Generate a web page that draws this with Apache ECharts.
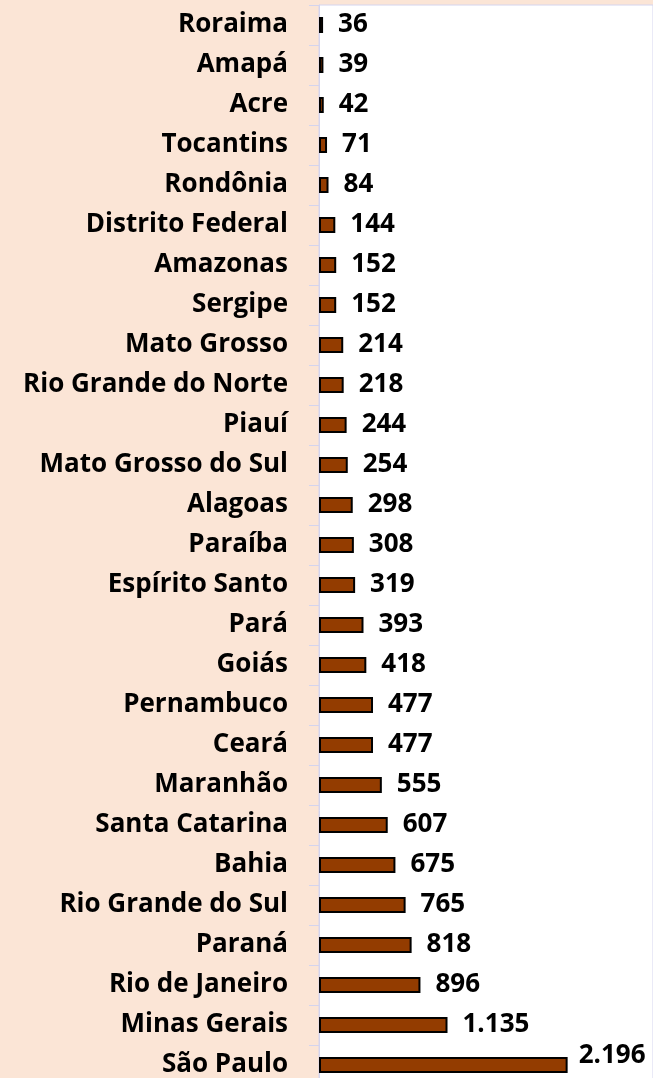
<!DOCTYPE html>
<html><head><meta charset="utf-8">
<script src="https://cdn.jsdelivr.net/npm/echarts@6/dist/echarts.min.js"></script>
<style>html,body{margin:0;padding:0;background:#FBE5D6;}#c{width:653px;height:1078px;}</style>
</head><body><div id="c"></div>
<script>
const categories = ["Roraima","Amapá","Acre","Tocantins","Rondônia","Distrito Federal","Amazonas","Sergipe","Mato Grosso","Rio Grande do Norte","Piauí","Mato Grosso do Sul","Alagoas","Paraíba","Espírito Santo","Pará","Goiás","Pernambuco","Ceará","Maranhão","Santa Catarina","Bahia","Rio Grande do Sul","Paraná","Rio de Janeiro","Minas Gerais","São Paulo"];
const values = [36,39,42,71,84,144,152,152,214,218,244,254,298,308,319,393,418,477,477,555,607,675,765,818,896,1135,2196];

function fmt(v){ return String(v).replace(/\B(?=(\d{3})+(?!\d))/g, '.'); }
const FONT = "'Open Sans', sans-serif";
const data = values.map((v,i)=>{
  const d = {value: v};
  if (i === values.length-1) d.label = {offset:[-4,-9]};
  return d;
});
const chart = echarts.init(document.getElementById('c'), null, {renderer:'canvas'});
chart.setOption({
  backgroundColor: '#FBE5D6',
  animation: false,
  grid: {left: 319, width: 334, top: 5, height: 1080, show: true, backgroundColor: '#FFFFFF', borderColor: '#D4D4EE', borderWidth: 1, containLabel: false, outerBoundsMode: 'none'},
  xAxis: {type: 'value', min: 0, max: 2950, show: false, splitLine: {show: false}},
  yAxis: {type: 'category', data: categories, inverse: true,
    axisLine: {show: true, lineStyle: {color: '#D4D4EE', width: 1}},
    axisTick: {show: true, length: 10, lineStyle: {color: '#D4D4EE'}},
    axisLabel: {margin: 31, color: '#000', fontWeight: 'bold', fontSize: 26, fontFamily: FONT}
  },
  series: [{
    type: 'bar', data: data, barWidth: 16,
    itemStyle: {color: '#933C00', borderColor: '#000', borderWidth: 2},
    label: {show: true, position: 'right', distance: 15, color: '#000', fontWeight: 'bold', fontSize: 26, fontFamily: FONT,
      formatter: p => fmt(p.value)}
  }]
});
</script></body></html>
